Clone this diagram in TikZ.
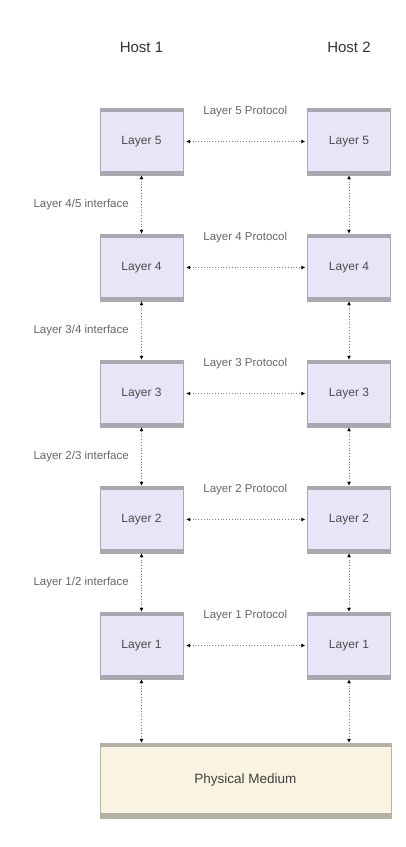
\documentclass[tikz,border=0pt]{standalone}
\usepackage{fontspec}
\setmainfont{Liberation Sans}
\usetikzlibrary{arrows.meta}

\definecolor{boxfill}{HTML}{E6E6F8}
\definecolor{boxline}{HTML}{A8A8B0}
\definecolor{medfill}{HTML}{FBF3E2}
\definecolor{medline}{HTML}{B4B2A4}
\definecolor{labtext}{HTML}{666666}

\tikzset{
  layer/.style={draw=boxline, fill=boxfill, minimum width=83pt, minimum height=67pt,
    inner sep=0pt, text=black!70, font=\fontsize{12}{14}\selectfont,
    path picture={
      \fill[boxline] (path picture bounding box.north west) rectangle ([yshift=-4pt]path picture bounding box.north east);
      \fill[boxline] (path picture bounding box.south west) rectangle ([yshift=4pt]path picture bounding box.south east);}},
  medium/.style={draw=medline, fill=medfill, minimum width=291pt, minimum height=75pt,
    inner sep=0pt, text=black!75, font=\fontsize{13.5}{15}\selectfont,
    path picture={
      \fill[medline] (path picture bounding box.north west) rectangle ([yshift=-4pt]path picture bounding box.north east);
      \fill[medline] (path picture bounding box.south west) rectangle ([yshift=5pt]path picture bounding box.south east);}},
  link/.style={draw=gray, dotted, thick,
    {Latex[length=4pt,width=4pt,color=black]}-{Latex[length=4pt,width=4pt,color=black]}},
  lab/.style={text=labtext, font=\fontsize{11.5}{13}\selectfont},
  host/.style={text=black!80, font=\fontsize{15}{17}\selectfont}
}

\begin{document}
\begin{tikzpicture}[x=1pt,y=-1pt]

\useasboundingbox (0,0) rectangle (406,847);
%\draw [step=50pt, dotted] (0,0) grid (406,847);

\node [host] (h1) at (141.5,47) {Host 1};
\node [host] (h2) at (349,47) {Host 2};

\node [layer] (l5a) at (141.5,141.5) {Layer 5};
\node [layer] (l5b) at (349,141.5) {Layer 5};
\node [layer] (l4a) at (141.5,267.5) {Layer 4};
\node [layer] (l4b) at (349,267.5) {Layer 4};
\node [layer] (l3a) at (141.5,393.5) {Layer 3};
\node [layer] (l3b) at (349,393.5) {Layer 3};
\node [layer] (l2a) at (141.5,519.5) {Layer 2};
\node [layer] (l2b) at (349,519.5) {Layer 2};
\node [layer] (l1a) at (141.5,645.5) {Layer 1};
\node [layer] (l1b) at (349,645.5) {Layer 1};

\node [medium] (phys) at (245.5,780.5) {Physical Medium};

% protocols
\draw [link, shorten <=3pt, shorten >=2pt] (l5a) -- (l5b) node [lab, midway, above=21pt] {Layer 5 Protocol};
\draw [link, shorten <=3pt, shorten >=2pt] (l4a) -- (l4b) node [lab, midway, above=21pt] {Layer 4 Protocol};
\draw [link, shorten <=3pt, shorten >=2pt] (l3a) -- (l3b) node [lab, midway, above=21pt] {Layer 3 Protocol};
\draw [link, shorten <=3pt, shorten >=2pt] (l2a) -- (l2b) node [lab, midway, above=21pt] {Layer 2 Protocol};
\draw [link, shorten <=3pt, shorten >=2pt] (l1a) -- (l1b) node [lab, midway, above=21pt] {Layer 1 Protocol};

% interfaces
\draw [link] (l5a) -- (l4a) node [lab, midway, anchor=east, xshift=-9pt] {Layer 4/5 interface};
\draw [link] (l4a) -- (l3a) node [lab, midway, anchor=east, xshift=-9pt] {Layer 3/4 interface};
\draw [link] (l3a) -- (l2a) node [lab, midway, anchor=east, xshift=-9pt] {Layer 2/3 interface};
\draw [link] (l2a) -- (l1a) node [lab, midway, anchor=east, xshift=-9pt] {Layer 1/2 interface};
\draw [link] (l5b) -- (l4b);
\draw [link] (l4b) -- (l3b);
\draw [link] (l3b) -- (l2b);
\draw [link] (l2b) -- (l1b);

\draw [link] (l1a.south) -- (l1a.south |- phys.north);
\draw [link] (l1b.south) -- (l1b.south |- phys.north);

\end{tikzpicture}
\end{document}
